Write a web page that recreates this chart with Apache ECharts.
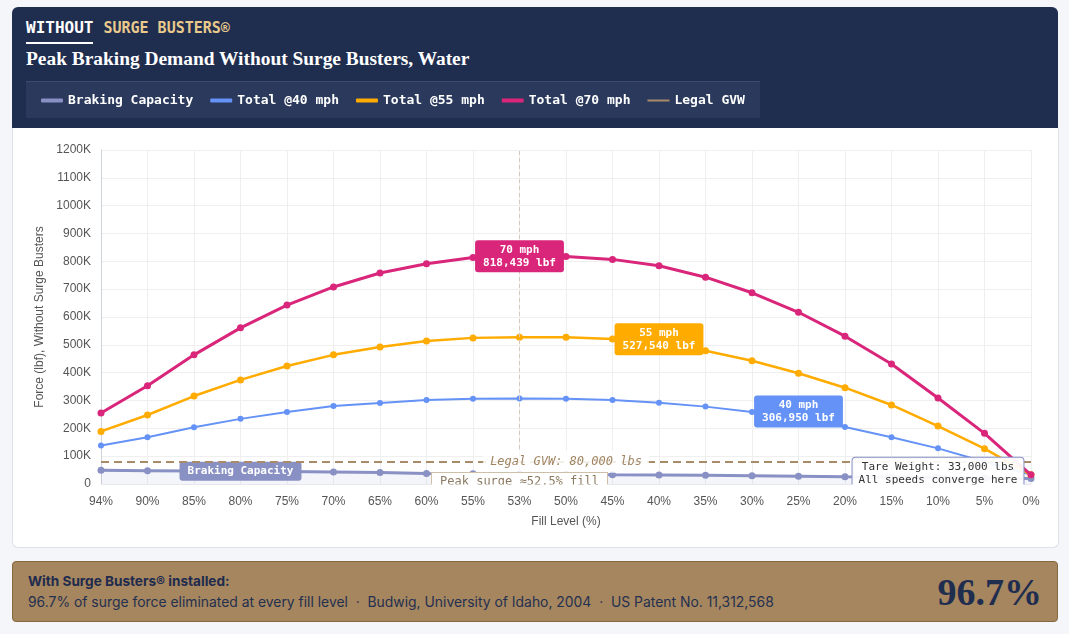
<!DOCTYPE html>
<html><head><meta charset="utf-8">
<script src="https://cdn.jsdelivr.net/npm/echarts@6/dist/echarts.min.js"></script>
<style>
html,body{margin:0;padding:0;background:#f4f6f9;width:1069px;height:634px;overflow:hidden;font-family:Inter,"Noto Sans",sans-serif;}
#hdr{position:absolute;left:12px;top:7px;width:1046px;height:121px;background:#1f2d4f;border-radius:6px 6px 0 0;}
#card{position:absolute;left:12px;top:128px;width:1045px;height:419px;background:#fff;border:1px solid #dde1e8;border-top:none;border-radius:0 0 6px 6px;}
#legbox{position:absolute;left:26px;top:81px;width:734px;height:36px;background:#2b3a5c;border-top:1px solid #3d4c6e;}
#kicker{position:absolute;left:26px;top:18px;font-family:"DejaVu Sans Mono",monospace;font-weight:bold;line-height:20px;white-space:nowrap;}
#kicker .w{color:#fff;font-size:16px;display:inline-block;border-bottom:2px solid #fff;padding-bottom:4px;}
#kicker .g{color:#e9c98c;font-size:15px;margin-left:10px;}
#title{position:absolute;left:26px;top:47px;color:#fff;font-family:"Liberation Serif","DejaVu Serif",serif;font-weight:bold;font-size:19.4px;line-height:24px;white-space:nowrap;}
#chart{position:absolute;left:12px;top:7px;width:1046px;height:541px;}
#foot{position:absolute;left:12px;top:561px;width:1044px;height:59px;background:#a6865f;border:1px solid #86683f;border-radius:4px;}
#foot .l1{position:absolute;left:15px;top:11px;font-size:13.6px;font-weight:bold;color:#1e2b4d;white-space:nowrap;}
#foot .l2{position:absolute;left:15px;top:32px;font-size:13.9px;color:#24304f;white-space:nowrap;}
#foot .big{position:absolute;right:15px;top:9px;font-family:"Liberation Serif","DejaVu Serif",serif;font-weight:bold;font-size:38px;line-height:42px;color:#1f2d4f;}
</style></head>
<body>
<div id="hdr"></div>
<div id="card"></div>
<div id="legbox"></div>
<div id="kicker"><span class="w">WITHOUT</span><span class="g">SURGE BUSTERS®</span></div>
<div id="title">Peak Braking Demand Without Surge Busters, Water</div>
<div id="chart"></div>
<div id="foot">
  <div class="l1">With Surge Busters® installed:</div>
  <div class="l2">96.7% of surge force eliminated at every fill level &nbsp;·&nbsp; Budwig, University of Idaho, 2004 &nbsp;·&nbsp; US Patent No. 11,312,568</div>
  <div class="big">96.7%</div>
</div>
<script>
const categories = ['94%','90%','85%','80%','75%','70%','65%','60%','55%','53%','50%','45%','40%','35%','30%','25%','20%','15%','10%','5%','0%'];
const brakingCapacity = [49000,48000,47000,46000,45000,43000,41000,38000,37000,36000,35000,33000,32000,31000,30000,28000,26000,25000,23000,22000,20000];
const total40 = [138000,168000,204000,234000,259000,280000,291000,302000,306000,306950,306000,302000,292000,278000,259000,233000,205000,168000,128000,80000,33000];
const total55 = [189000,248000,316000,374000,424000,464000,492000,514000,525000,527540,527000,521000,505000,479000,443000,398000,346000,284000,208000,127000,33000];
const total70 = [255000,353000,464000,561000,643000,708000,758000,791000,814000,818439,817000,807000,784000,743000,687000,617000,531000,431000,309000,182000,33000];
const legalGVW = 80000;
const tareWeight = 33000;
const peakFill = '53%';
const yMin = 0, yMax = 1200000, yStep = 100000;

const mono = '"DejaVu Sans Mono", monospace';
const sans = '"Liberation Sans", Arial, sans-serif';
const fmt = v => v.toLocaleString('en-US');

function tag(coord, text, bg, offset) {
  return {
    coord: coord, symbol: 'circle', symbolSize: 1,
    itemStyle: {color: 'rgba(0,0,0,0)'},
    label: {show: true, position: 'inside', formatter: text, offset: offset || [0,0],
      color: '#fff', fontFamily: mono, fontWeight: 'bold', fontSize: 11, lineHeight: 13,
      backgroundColor: bg, padding: [3, 8], borderRadius: 3}
  };
}

const chart = echarts.init(document.getElementById('chart'));
chart.setOption({
  animation: false,
  legend: {
    left: 24, top: 82, itemWidth: 22, itemHeight: 4, itemGap: 17,
    textStyle: {color: '#fff', fontFamily: mono, fontWeight: 'bold', fontSize: 13},
    data: [
      {name: 'Braking Capacity', icon: 'roundRect'},
      {name: 'Total @40 mph', icon: 'roundRect'},
      {name: 'Total @55 mph', icon: 'roundRect'},
      {name: 'Total @70 mph', icon: 'roundRect'},
      {name: 'Legal GVW', icon: 'path://M0,0 L22,0 L22,2 L0,2 Z'}
    ]
  },
  grid: {left: 89, right: 27, top: 143, bottom: 64},
  xAxis: {
    type: 'category', data: categories, boundaryGap: false,
    name: 'Fill Level (%)', nameLocation: 'middle', nameGap: 32,
    nameTextStyle: {color: '#555', fontFamily: sans, fontSize: 12},
    axisLine: {lineStyle: {color: '#cfd3da'}},
    axisTick: {show: false},
    axisLabel: {color: '#555', fontFamily: sans, fontSize: 12, margin: 12},
    splitLine: {show: true, lineStyle: {color: '#efefef'}}
  },
  yAxis: {
    type: 'value', min: yMin, max: yMax, interval: yStep,
    name: 'Force (lbf), Without Surge Busters', nameLocation: 'middle', nameGap: 55,
    nameTextStyle: {color: '#555', fontFamily: sans, fontSize: 12},
    axisLine: {show: true, lineStyle: {color: '#cfd3da'}},
    axisTick: {show: false},
    axisLabel: {color: '#555', fontFamily: sans, fontSize: 12, margin: 10,
      formatter: v => v === 0 ? '0' : (v / 1000) + 'K'},
    splitLine: {lineStyle: {color: '#efefef'}}
  },
  series: [
    {
      name: 'Braking Capacity', type: 'line', data: brakingCapacity, z: 3,
      color: '#8890c4', symbol: 'circle', symbolSize: 7,
      lineStyle: {width: 3}, areaStyle: {color: 'rgba(136,144,196,0.13)'},
      markPoint: {data: [tag(['80%', 46000], 'Braking Capacity', '#8890c4')]}
    },
    {
      name: 'Total @40 mph', type: 'line', data: total40, z: 4,
      color: '#6592f6', symbol: 'circle', symbolSize: 6, lineStyle: {width: 2},
      markPoint: {z: 8, data: [tag(['25%', 306950], '40 mph\n' + fmt(306950) + ' lbf', '#6592f6', [0, 13])]}
    },
    {
      name: 'Total @55 mph', type: 'line', data: total55, z: 5,
      color: '#ffab00', symbol: 'circle', symbolSize: 7, lineStyle: {width: 2.5},
      markPoint: {z: 8, data: [tag(['40%', 527540], '55 mph\n' + fmt(527540) + ' lbf', '#ffab00', [0, 2])]}
    },
    {
      name: 'Total @70 mph', type: 'line', data: total70, z: 6,
      color: '#d9267a', symbol: 'circle', symbolSize: 7, lineStyle: {width: 3},
      markPoint: {z: 8, data: [tag([peakFill, 818439], '70 mph\n' + fmt(818439) + ' lbf', '#d9267a')]}
    },
    {
      name: 'Legal GVW', type: 'line', data: [], color: '#a88b68', z: 7,
      markLine: {
        symbol: ['none', 'none'], silent: true, z: 7,
        data: [
          {yAxis: legalGVW, lineStyle: {color: '#a88b68', type: [8, 5], width: 2}, label: {show: false}},
          {xAxis: peakFill, lineStyle: {color: '#d4cabb', type: [4, 3], width: 1}, label: {show: false}}
        ]
      },
      markPoint: {
        z: 9,
        data: [
          {coord: ['50%', legalGVW], symbol: 'circle', symbolSize: 1, itemStyle: {color: 'rgba(0,0,0,0)'},
            label: {show: true, position: 'inside', formatter: 'Legal GVW: ' + fmt(legalGVW) + ' lbs',
              color: '#a08462', fontFamily: mono, fontStyle: 'italic', fontSize: 12, lineHeight: 14,
              backgroundColor: 'rgba(255,255,255,0.85)', padding: [4, 7]}},
          {coord: [peakFill, 0], symbol: 'circle', symbolSize: 1, itemStyle: {color: 'rgba(0,0,0,0)'},
            label: {show: true, position: 'inside', offset: [0, -2], formatter: 'Peak surge ≈52.5% fill',
              color: '#8c7a62', fontFamily: mono, fontSize: 12, lineHeight: 14,
              backgroundColor: '#fff', borderColor: '#cdbfa8', borderWidth: 1, padding: [2, 8]}},
          {coord: ['10%', tareWeight], symbol: 'circle', symbolSize: 1, itemStyle: {color: 'rgba(0,0,0,0)'},
            label: {show: true, position: 'inside', offset: [0, -1],
              formatter: 'Tare Weight: ' + fmt(tareWeight) + ' lbs\nAll speeds converge here',
              color: '#333', fontFamily: mono, fontSize: 11, lineHeight: 13,
              backgroundColor: 'rgba(255,255,255,0.93)', borderColor: '#8890c4', borderWidth: 1,
              borderRadius: 3, padding: [3, 6]}}
        ]
      }
    }
  ],
  graphic: [
    {type: 'rect', z: 100, silent: true, shape: {x: 80, y: 477.6, width: 950, height: 8.6},
      style: {fill: '#fff'}}
  ]
});
</script>
</body></html>
